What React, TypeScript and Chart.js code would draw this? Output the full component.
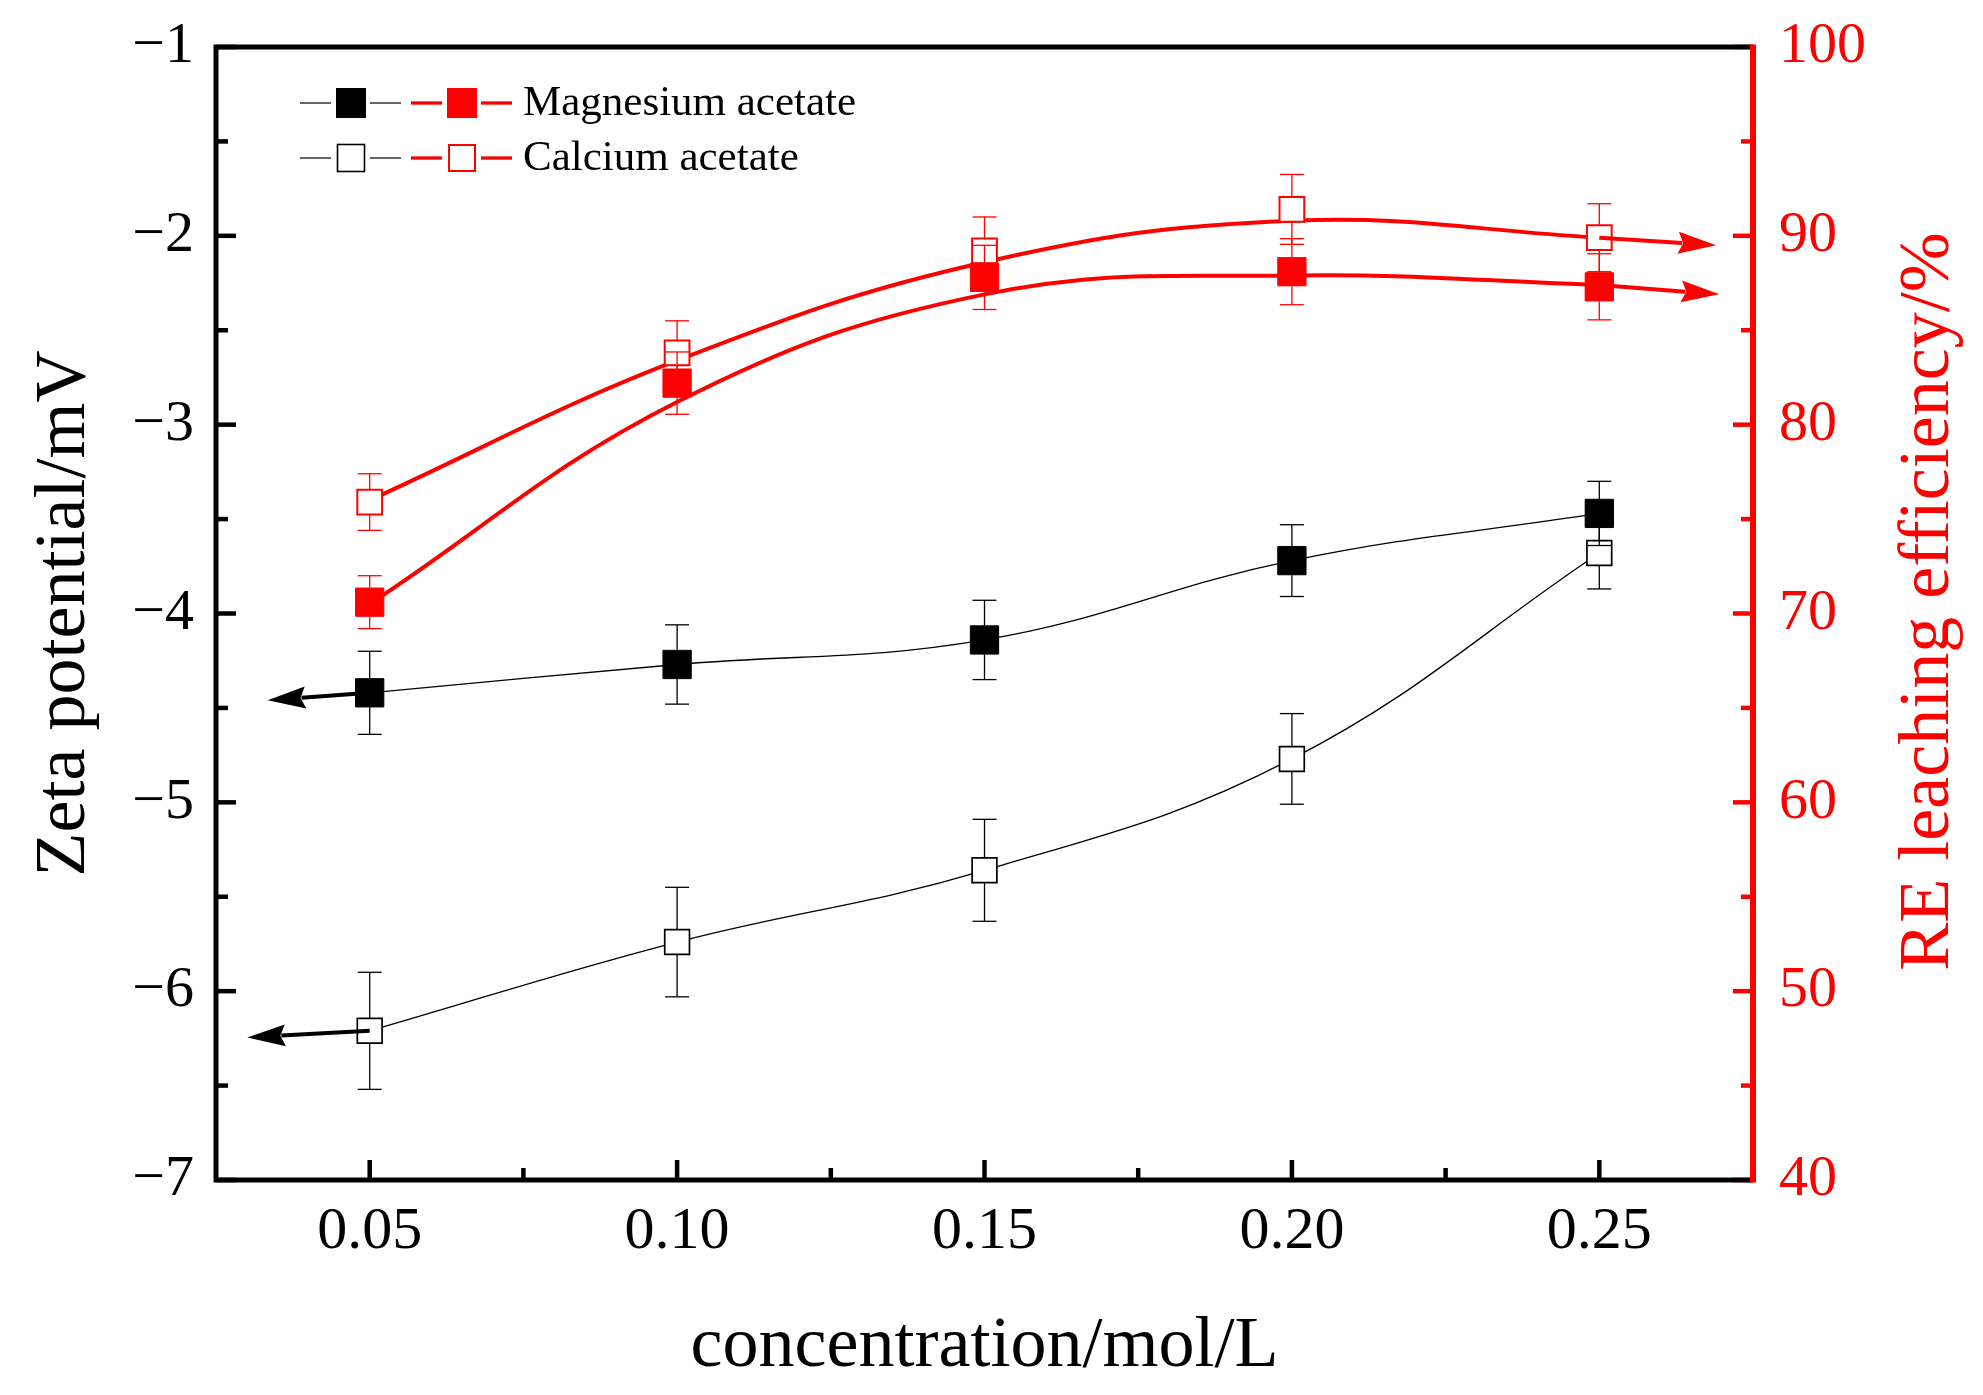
import React, { useEffect, useRef } from 'react';
import { Chart, registerables } from 'chart.js';

Chart.register(...registerables);

// concentration/mol/L
const concentrations = [0.05, 0.1, 0.15, 0.2, 0.25];

// zeta potential (mV) - left axis
const magnesiumZeta = [-4.42, -4.27, -4.14, -3.72, -3.47];
const magnesiumZetaErr = [0.22, 0.21, 0.21, 0.19, 0.17];
const calciumZeta = [-6.21, -5.74, -5.36, -4.77, -3.68];
const calciumZetaErr = [0.31, 0.29, 0.27, 0.24, 0.19];

// RE leaching efficiency (%) - right axis
const magnesiumRE = [70.6, 82.2, 87.8, 88.1, 87.3];
const magnesiumREErr = [1.4, 1.65, 1.7, 1.75, 1.75];
const calciumRE = [75.9, 83.8, 89.2, 91.4, 89.9];
const calciumREErr = [1.5, 1.7, 1.8, 1.85, 1.8];

// smoothed trend curves drawn through the RE data
const magnesiumREFit = [70.5, 81.2, 86.9, 87.9, 87.4];
const calciumREFit = [76.0, 83.4, 88.6, 90.8, 89.9];

// arrow tips pointing to the axis each curve belongs to: [magnesium, calcium]
const zetaArrowX = [0.0334, 0.0301];
const zetaArrowY = [-4.46, -6.245];
const reArrowX = [0.2695, 0.269];
const reArrowY = [86.9, 89.5];

// axis ticks (majors get labels)
const xTicks = [0.05, 0.075, 0.1, 0.125, 0.15, 0.175, 0.2, 0.225, 0.25];
const zetaTicks = [-7, -6.5, -6, -5.5, -5, -4.5, -4, -3.5, -3, -2.5, -2, -1.5, -1];
const reTicks = [40, 45, 50, 55, 60, 65, 70, 75, 80, 85, 90, 95, 100];

const SERIF = "'Liberation Serif', 'Times New Roman', serif";
const RED = '#ff0000';
const BLACK = '#000000';

const isMajorX = (v: number) => Math.abs(v * 20 - Math.round(v * 20)) < 1e-6;
const isMajorZeta = (v: number) => Math.abs(v - Math.round(v)) < 1e-6;
const isMajorRE = (v: number) => Math.abs(v / 10 - Math.round(v / 10)) < 1e-6;

const pts = (ys: number[]) => concentrations.map((x, i) => ({ x, y: ys[i] }));

const drawLine = (ctx: CanvasRenderingContext2D, x1: number, y1: number, x2: number, y2: number) => {
    ctx.beginPath();
    ctx.moveTo(x1, y1);
    ctx.lineTo(x2, y2);
    ctx.stroke();
};

// keep the plot box where we want it (no label overhang padding)
const noPadding = (s: any) => {
    s.paddingTop = 0;
    s.paddingBottom = 0;
    s.paddingLeft = 0;
    s.paddingRight = 0;
};

// error bars start at the marker edge, drawn on top of the markers
const errorBars = {
    id: 'errorBars',
    afterDatasetsDraw(chart: any) {
        const { ctx } = chart;
        chart.data.datasets.forEach((ds: any, di: number) => {
            if (!ds.errors) return;
            const meta = chart.getDatasetMeta(di);
            const scale = chart.scales[ds.yAxisID];
            ctx.save();
            ctx.strokeStyle = ds.pointBorderColor;
            ctx.lineWidth = 1.3;
            meta.data.forEach((pt: any, i: number) => {
                const v = ds.data[i].y;
                const e = ds.errors[i];
                const top = scale.getPixelForValue(v + e);
                const bot = scale.getPixelForValue(v - e);
                const h = ds.half;
                if (pt.y - h > top) {
                    drawLine(ctx, pt.x, pt.y - h, pt.x, top);
                }
                drawLine(ctx, pt.x - 12, top, pt.x + 12, top);
                if (pt.y + h < bot) {
                    drawLine(ctx, pt.x, pt.y + h, pt.x, bot);
                }
                drawLine(ctx, pt.x - 12, bot, pt.x + 12, bot);
            });
            ctx.restore();
        });
    },
};

// arrows from the end of each curve to its axis side
const arrows = {
    id: 'arrows',
    afterDatasetsDraw(chart: any) {
        const { ctx } = chart;
        chart.data.datasets.forEach((ds: any, di: number) => {
            if (!ds.arrow) return;
            const meta = chart.getDatasetMeta(di);
            const yScale = chart.scales[ds.yAxisID];
            const base = ds.arrow.atStart ? meta.data[0] : meta.data[meta.data.length - 1];
            const tx = chart.scales.x.getPixelForValue(ds.arrow.x);
            const ty = yScale.getPixelForValue(ds.arrow.y);
            const dx = tx - base.x;
            const dy = ty - base.y;
            const len = Math.hypot(dx, dy);
            const ux = dx / len;
            const uy = dy / len;
            const headLen = 38;
            const headHalf = 11;
            const bx = tx - ux * headLen;
            const by = ty - uy * headLen;
            ctx.save();
            ctx.strokeStyle = ds.borderColor;
            ctx.fillStyle = ds.borderColor;
            ctx.lineWidth = ds.arrow.stem;
            drawLine(ctx, base.x, base.y, bx + ux * 4, by + uy * 4);
            ctx.beginPath();
            ctx.moveTo(tx, ty);
            ctx.lineTo(bx - uy * headHalf, by + ux * headHalf);
            ctx.lineTo(bx + ux * 5, by + uy * 5);
            ctx.lineTo(bx + uy * headHalf, by - ux * headHalf);
            ctx.closePath();
            ctx.fill();
            ctx.restore();
        });
    },
};

// frame with inward ticks, legend and right-hand title
const frame = {
    id: 'frame',
    afterDraw(chart: any) {
        const { ctx, chartArea: a, scales } = chart;
        ctx.save();
        ctx.lineCap = 'butt';

        ctx.lineWidth = 4.5;
        ctx.strokeStyle = BLACK;
        scales.x.ticks.forEach((t: any) => {
            const px = scales.x.getPixelForValue(t.value);
            drawLine(ctx, px, a.bottom, px, a.bottom - (isMajorX(t.value) ? 20 : 12));
        });
        scales.y.ticks.forEach((t: any) => {
            const py = scales.y.getPixelForValue(t.value);
            drawLine(ctx, a.left, py, a.left + (isMajorZeta(t.value) ? 20 : 12), py);
        });
        ctx.strokeStyle = RED;
        scales.y1.ticks.forEach((t: any) => {
            const py = scales.y1.getPixelForValue(t.value);
            drawLine(ctx, a.right, py, a.right - (isMajorRE(t.value) ? 20 : 12), py);
        });

        ctx.lineWidth = 5;
        ctx.strokeStyle = BLACK;
        ctx.lineJoin = 'miter';
        ctx.beginPath();
        ctx.moveTo(a.right, a.top);
        ctx.lineTo(a.left, a.top);
        ctx.lineTo(a.left, a.bottom);
        ctx.lineTo(a.right, a.bottom);
        ctx.stroke();
        ctx.strokeStyle = RED;
        ctx.lineWidth = 6;
        drawLine(ctx, a.right, a.top - 2.5, a.right, a.bottom + 2.5);

        // legend
        const rows = [
            { label: 'Magnesium acetate', filled: true, y: 103 },
            { label: 'Calcium acetate', filled: false, y: 158 },
        ];
        rows.forEach((r) => {
            ctx.strokeStyle = BLACK;
            ctx.lineWidth = 1.2;
            drawLine(ctx, 300, r.y, 331, r.y);
            drawLine(ctx, 370, r.y, 401, r.y);
            ctx.strokeStyle = RED;
            ctx.lineWidth = 3.3;
            drawLine(ctx, 411, r.y, 442, r.y);
            drawLine(ctx, 481, r.y, 512, r.y);
            if (r.filled) {
                ctx.fillStyle = BLACK;
                ctx.fillRect(351 - 15, r.y - 15, 30, 30);
                ctx.fillStyle = RED;
                ctx.fillRect(462 - 15, r.y - 15, 30, 30);
            } else {
                ctx.lineWidth = 1.6;
                ctx.strokeStyle = BLACK;
                ctx.strokeRect(351 - 13.5, r.y - 13.5, 27, 27);
                ctx.lineWidth = 2;
                ctx.strokeStyle = RED;
                ctx.strokeRect(462 - 13, r.y - 13, 26, 26);
            }
            ctx.fillStyle = BLACK;
            ctx.font = `43px ${SERIF}`;
            ctx.textAlign = 'left';
            ctx.textBaseline = 'middle';
            ctx.fillText(r.label, 523, r.y + 1);
        });

        // right axis title, reading bottom to top
        ctx.translate(1929, (a.top + a.bottom) / 2 - 12);
        ctx.rotate(-Math.PI / 2);
        ctx.fillStyle = RED;
        ctx.font = `72px ${SERIF}`;
        ctx.textAlign = 'center';
        ctx.textBaseline = 'middle';
        ctx.fillText('RE leaching efficiency/%', 0, 0);
        ctx.restore();
    },
};

const App = () => {
    const canvasRef = useRef<HTMLCanvasElement>(null);

    useEffect(() => {
        if (!canvasRef.current) return;

        const markerSets = [
            { data: pts(magnesiumZeta), yAxisID: 'y', errors: magnesiumZetaErr, color: BLACK, filled: true },
            { data: pts(calciumZeta), yAxisID: 'y', errors: calciumZetaErr, color: BLACK, filled: false },
            { data: pts(magnesiumRE), yAxisID: 'y1', errors: magnesiumREErr, color: RED, filled: true },
            { data: pts(calciumRE), yAxisID: 'y1', errors: calciumREErr, color: RED, filled: false },
        ].map((m) => ({
            type: 'line' as const,
            data: m.data,
            yAxisID: m.yAxisID,
            showLine: false,
            pointStyle: 'rect',
            pointRadius: m.filled ? 20 : 17.5,
            pointHoverRadius: m.filled ? 20 : 17.5,
            pointBackgroundColor: m.filled ? m.color : '#ffffff',
            pointBorderColor: m.color,
            pointBorderWidth: m.filled ? 1 : m.color === RED ? 2 : 1.7,
            borderColor: m.color,
            backgroundColor: m.color,
            errors: m.errors,
            half: m.filled ? 14.5 : 13,
            order: 0,
        }));

        const curveSets = [
            { data: pts(magnesiumZeta), yAxisID: 'y', color: BLACK, width: 1.3, arrow: { x: zetaArrowX[0], y: zetaArrowY[0], atStart: true, stem: 4 } },
            { data: pts(calciumZeta), yAxisID: 'y', color: BLACK, width: 1.3, arrow: { x: zetaArrowX[1], y: zetaArrowY[1], atStart: true, stem: 4 } },
            { data: pts(magnesiumREFit), yAxisID: 'y1', color: RED, width: 4, arrow: { x: reArrowX[0], y: reArrowY[0], atStart: false, stem: 4 } },
            { data: pts(calciumREFit), yAxisID: 'y1', color: RED, width: 4, arrow: { x: reArrowX[1], y: reArrowY[1], atStart: false, stem: 4 } },
        ].map((c) => ({
            type: 'line' as const,
            data: c.data,
            yAxisID: c.yAxisID,
            borderColor: c.color,
            backgroundColor: c.color,
            borderWidth: c.width,
            tension: 0.4,
            pointRadius: 0,
            pointHoverRadius: 0,
            fill: false,
            arrow: c.arrow,
            order: 1,
        }));

        const chart = new Chart(canvasRef.current, {
            type: 'line',
            data: { datasets: [...markerSets, ...curveSets] as any },
            options: {
                animation: false,
                responsive: true,
                maintainAspectRatio: false,
                events: [],
                layout: { autoPadding: false, padding: { top: 47, left: 0, right: 0, bottom: 0 } },
                plugins: {
                    legend: { display: false },
                    tooltip: { enabled: false },
                },
                scales: {
                    x: {
                        type: 'linear',
                        position: 'bottom',
                        min: 0.025,
                        max: 0.275,
                        afterBuildTicks: (s: any) => {
                            s.ticks = xTicks.map((v) => ({ value: v }));
                        },
                        afterFit: (s: any) => {
                            s.height = 215;
                            noPadding(s);
                        },
                        grid: { display: false, drawTicks: false },
                        border: { display: false },
                        ticks: {
                            autoSkip: false,
                            maxRotation: 0,
                            padding: 16,
                            color: BLACK,
                            font: { family: SERIF, size: 60 },
                            callback: (v: any) => (isMajorX(Number(v)) ? Number(v).toFixed(2) : ''),
                        },
                        title: {
                            display: true,
                            text: 'concentration/mol/L',
                            color: BLACK,
                            font: { family: SERIF, size: 72 },
                            padding: { top: 0, bottom: 5 },
                        },
                    },
                    y: {
                        type: 'linear',
                        position: 'left',
                        min: -7,
                        max: -1,
                        afterBuildTicks: (s: any) => {
                            s.ticks = zetaTicks.map((v) => ({ value: v }));
                        },
                        afterFit: (s: any) => {
                            s.width = 216;
                            noPadding(s);
                        },
                        grid: { display: false, drawTicks: false },
                        border: { display: false },
                        ticks: {
                            autoSkip: false,
                            padding: 22,
                            color: BLACK,
                            font: { family: SERIF, size: 58 },
                            callback: (v: any) => (isMajorZeta(Number(v)) ? '\u2212' + Math.abs(Number(v)) : ''),
                        },
                        title: {
                            display: true,
                            text: 'Zeta potential/mV',
                            color: BLACK,
                            font: { family: SERIF, size: 72 },
                            padding: { top: 22, bottom: 0 },
                        },
                    },
                    y1: {
                        type: 'linear',
                        position: 'right',
                        min: 40,
                        max: 100,
                        afterBuildTicks: (s: any) => {
                            s.ticks = reTicks.map((v) => ({ value: v }));
                        },
                        afterFit: (s: any) => {
                            s.width = 230;
                            noPadding(s);
                        },
                        grid: { display: false, drawTicks: false, drawOnChartArea: false },
                        border: { display: false },
                        ticks: {
                            autoSkip: false,
                            padding: 26,
                            color: RED,
                            font: { family: SERIF, size: 58 },
                            callback: (v: any) => (isMajorRE(Number(v)) ? String(v) : ''),
                        },
                    },
                },
            },
            plugins: [errorBars, arrows, frame],
        });

        return () => chart.destroy();
    }, []);

    return (
        <div style={{ position: 'fixed', left: 0, top: 0, width: 1983, height: 1395, backgroundColor: '#ffffff' }}>
            <canvas ref={canvasRef} />
        </div>
    );
};

export default App;
